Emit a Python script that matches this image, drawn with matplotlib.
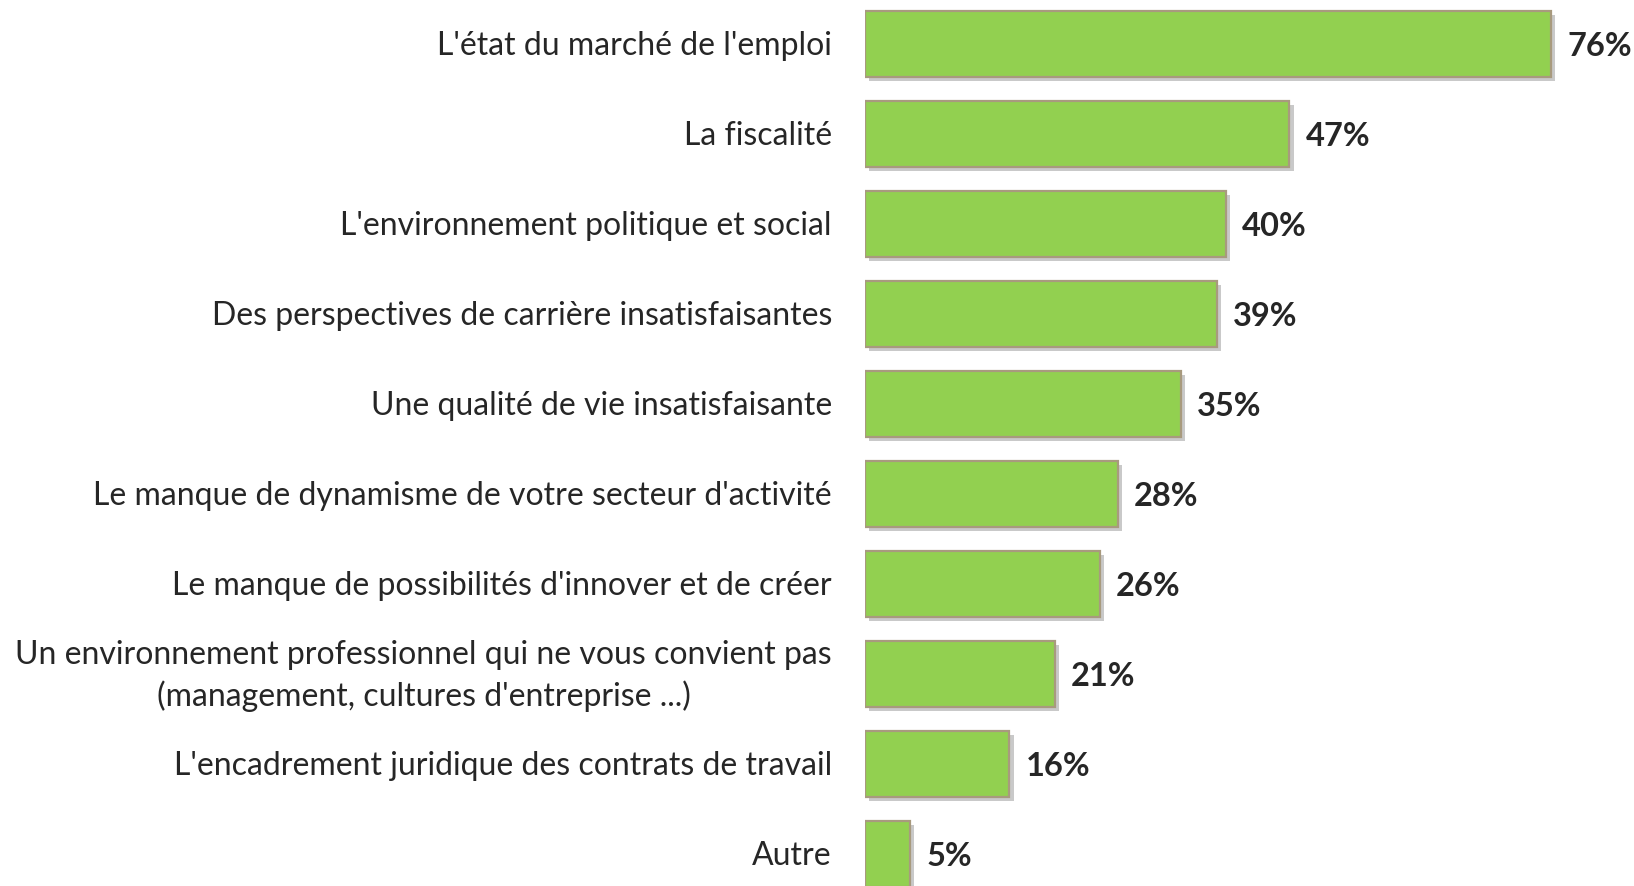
import matplotlib
matplotlib.use("Agg")
import matplotlib.pyplot as plt
import matplotlib.patheffects as pe

categories = [
    "L'état du marché de l'emploi",
    "La fiscalité",
    "L'environnement politique et social",
    "Des perspectives de carrière insatisfaisantes",
    "Une qualité de vie insatisfaisante",
    "Le manque de dynamisme de votre secteur d'activité",
    "Le manque de possibilités d'innover et de créer",
    "Un environnement professionnel qui ne vous convient pas\n(management, cultures d'entreprise ...)",
    "L'encadrement juridique des contrats de travail",
    "Autre",
]
values = [76, 47, 40, 39, 35, 28, 26, 21, 16, 5]
value_labels = [f"{v}%" for v in values]

plt.rcParams['font.family'] = ['Lato', 'DejaVu Sans']

W, H = 1634, 886
fig = plt.figure(figsize=(W / 100, H / 100), dpi=100)
ax_left = 865 / W
ax = fig.add_axes([ax_left, 0, 1 - ax_left, 1])
px_per_unit = 9.03
ax.set_xlim(0, (W - 865) / px_per_unit)
pitch = 90.0
first_c = 44.0
ax.set_ylim((H - first_c) / pitch, -first_c / pitch)
ax.axis('off')

ypos = list(range(len(categories)))
bars = ax.barh(ypos, values, height=66 / pitch, color='#92D050',
               edgecolor='#A89A7E', linewidth=1.6)
for b in bars:
    b.set_path_effects([pe.SimplePatchShadow(offset=(3, -3), shadow_rgbFace='#888888', alpha=0.45),
                        pe.Normal()])

for y, v, lab in zip(ypos, values, value_labels):
    ax.annotate(lab, xy=(v, y), xytext=(16, -3), textcoords='offset pixels',
                ha='left', va='center', fontsize=23.5, fontweight='bold', color='#262626')

for y, cat in zip(ypos, categories):
    ax.annotate(cat, xy=(0, y), xytext=(-33, -2), textcoords='offset pixels',
                ha='right', va='center', fontsize=23, color='#262626',
                multialignment='center', linespacing=1.4, annotation_clip=False)

fig.savefig('out.png', dpi=100)
